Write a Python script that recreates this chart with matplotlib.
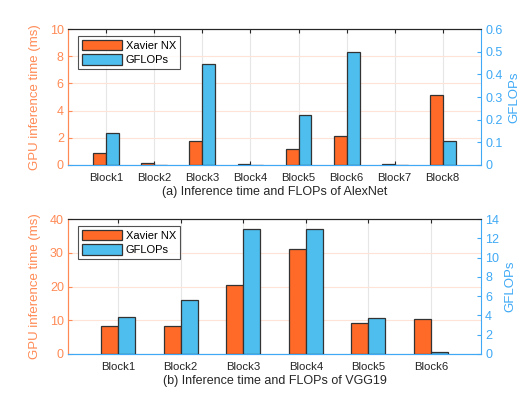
import numpy as np
import matplotlib
matplotlib.use("Agg")
import matplotlib.pyplot as plt

plt.rcParams['font.family'] = ['Liberation Sans', 'DejaVu Sans']

# AlexNet
alex_blocks = ["Block1", "Block2", "Block3", "Block4", "Block5", "Block6", "Block7", "Block8"]
alex_time = [0.86, 0.12, 1.77, 0.05, 1.15, 2.11, 0.1, 5.16]
alex_flops = [0.14, 0.002, 0.447, 0.002, 0.221, 0.498, 0.002, 0.108]

# VGG19
vgg_blocks = ["Block1", "Block2", "Block3", "Block4", "Block5", "Block6"]
vgg_time = [8.3, 8.2, 20.4, 31.2, 9.2, 10.5]
vgg_flops = [3.87, 5.57, 12.96, 12.96, 3.73, 0.2]

orange = "#FF6A28"
axis_orange = "#FF8A55"
blue = "#4DBEEE"
axis_blue = "#3FA9F5"


def draw(ax, blocks, times, flops, ylim_l, yticks_l, ylim_r, yticks_r, caption):
    x = np.arange(1, len(blocks) + 1)
    w = 0.27
    ax.bar(x - w / 2, times, w, color=orange, edgecolor="#333333", linewidth=0.9,
           label="Xavier NX", zorder=3)
    ax2 = ax.twinx()
    ax2.bar(x + w / 2, flops, w, color=blue, edgecolor="#333333", linewidth=0.9,
            label="GFLOPs", zorder=3)
    ax.set_xlim(0.2, len(blocks) + 0.8)
    ax.set_ylim(*ylim_l)
    ax.set_yticks(yticks_l)
    ax2.set_ylim(*ylim_r)
    ax2.set_yticks(yticks_r)
    ax2.set_yticklabels([f"{v:g}" for v in yticks_r])
    ax.set_xticks(x)
    ax.set_xticklabels(blocks)
    ax.set_xlabel(caption, fontsize=9, color="#262626", labelpad=2)
    ax.set_ylabel("GPU inference time (ms)", color=axis_orange, fontsize=9.5, labelpad=6)
    ax2.set_ylabel("GFLOPs", color=axis_blue, fontsize=9.5, labelpad=4)

    ax.grid(axis="x", color="#e6e6e6", linewidth=0.8, zorder=0)
    ax.grid(axis="y", color="#ffe3d6", linewidth=0.8, zorder=0)
    ax.set_axisbelow(True)

    ax.tick_params(axis="x", direction="in", top=True, length=3, labelsize=8.2,
                   colors="#262626", pad=6)
    ax.tick_params(axis="y", direction="in", length=3, labelsize=9,
                   colors=axis_orange, pad=3)
    ax2.tick_params(axis="y", direction="in", length=3, labelsize=9,
                    colors=axis_blue, pad=3)
    ax.spines["left"].set_color(axis_orange)
    ax2.spines["left"].set_color(axis_orange)
    ax2.spines["right"].set_color(axis_blue)
    ax.spines["right"].set_visible(False)
    ax2.spines["bottom"].set_color(axis_blue)
    ax.spines["bottom"].set_color(axis_blue)
    ax.spines["top"].set_color("#262626")
    ax2.spines["top"].set_color("#262626")
    for s in ax.spines.values():
        s.set_linewidth(0.8)
    for s in ax2.spines.values():
        s.set_linewidth(0.8)

    h1, l1 = ax.get_legend_handles_labels()
    h2, l2 = ax2.get_legend_handles_labels()
    leg = ax2.legend(h1 + h2, l1 + l2, loc="upper left", bbox_to_anchor=(0.025, 0.95),
                     fontsize=8, frameon=True, fancybox=False, edgecolor="#262626",
                     handlelength=3.6, handleheight=1.1, borderpad=0.35,
                     labelspacing=0.3, handletextpad=0.3, borderaxespad=0)
    leg.get_frame().set_linewidth(0.8)


fig = plt.figure(figsize=(5.32, 3.99), dpi=100)
ax_a = fig.add_axes([68 / 532, 1 - 165 / 399, 413 / 532, 136 / 399])
ax_b = fig.add_axes([68 / 532, 1 - 354 / 399, 413 / 532, 135 / 399])

draw(ax_a, alex_blocks, alex_time, alex_flops, (0, 10), [0, 2, 4, 6, 8, 10],
     (0, 0.6), [0, 0.1, 0.2, 0.3, 0.4, 0.5, 0.6],
     "(a) Inference time and FLOPs of AlexNet")
draw(ax_b, vgg_blocks, vgg_time, vgg_flops, (0, 40), [0, 10, 20, 30, 40],
     (0, 14), [0, 2, 4, 6, 8, 10, 12, 14],
     "(b) Inference time and FLOPs of VGG19")

fig.savefig("out.png", dpi=100)
